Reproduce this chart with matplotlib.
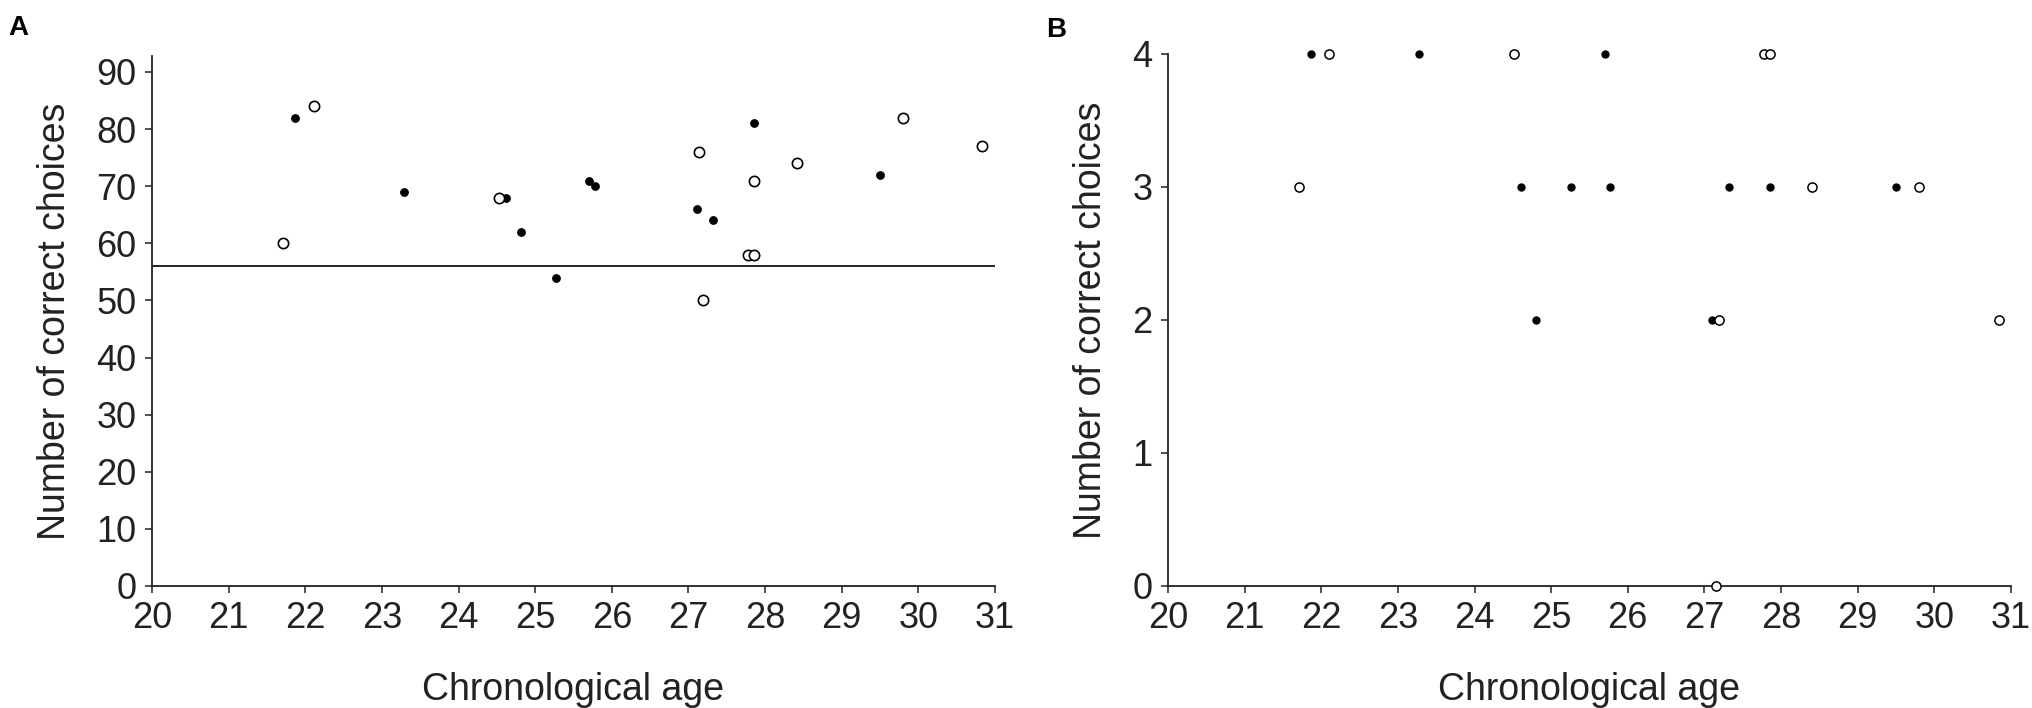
import matplotlib
matplotlib.use("Agg")
import matplotlib.pyplot as plt

plt.rcParams['font.family'] = ['Liberation Sans', 'DejaVu Sans']

# Panel A: number of correct choices (of 90) vs age
a_filled_age = [21.87, 23.29, 24.62, 24.81, 25.27, 25.70, 25.78, 27.11, 27.32, 27.86, 29.50]
a_filled_score = [82, 69, 68, 62, 54, 71, 70, 66, 64, 81, 72]
a_open_age = [21.71, 22.11, 24.53, 27.14, 27.19, 27.78, 27.86, 27.86, 28.41, 29.80, 30.83]
a_open_score = [60, 84, 68, 76, 50, 58, 58, 71, 74, 82, 77]
a_chance = 56

# Panel B: number of correct choices (of 4) vs age
b_filled_age = [21.86, 23.28, 25.70, 24.61, 25.26, 25.77, 27.32, 27.86, 29.50, 24.80, 27.10]
b_filled_score = [4, 4, 4, 3, 3, 3, 3, 3, 3, 2, 2]
b_open_age = [22.10, 24.51, 27.78, 27.86, 21.71, 28.41, 29.80, 27.19, 30.84, 27.15]
b_open_score = [4, 4, 4, 4, 3, 3, 3, 2, 2, 0]

x_ticks = list(range(20, 32))
a_y_ticks = list(range(0, 91, 10))
b_y_ticks = [0, 1, 2, 3, 4]

ink = '#222222'
fig = plt.figure(figsize=(20.33, 7.08), dpi=100)
ax_a = fig.add_axes([0.07477, 0.17232, 0.41465, 0.74859])
ax_b = fig.add_axes([0.57452, 0.17232, 0.41465, 0.75141])


def style_axes(ax, yticks, ylim):
    ax.set_xlim(20, 31)
    ax.set_ylim(*ylim)
    ax.set_xticks(x_ticks)
    ax.set_yticks(yticks)
    for side in ('top', 'right'):
        ax.spines[side].set_visible(False)
    for side in ('left', 'bottom'):
        ax.spines[side].set_color(ink)
        ax.spines[side].set_linewidth(1.3)
    ax.tick_params(direction='out', length=5, width=1.1, color=ink,
                   labelsize=26, labelcolor=ink, pad=6)
    ax.set_xlabel('Chronological age', fontsize=27, color=ink, labelpad=26)
    ax.set_ylabel('Number of correct choices', fontsize=27, color=ink, labelpad=17)


style_axes(ax_a, a_y_ticks, (0, 92.8))
ax_a.axhline(a_chance, color='black', lw=1.2, zorder=1)
ax_a.plot(a_filled_age, a_filled_score, 'o', ms=5.3, color='black',
          mec='black', clip_on=False, zorder=3)
ax_a.plot(a_open_age, a_open_score, 'o', ms=7.4, mfc='white', mec='black',
          mew=1.2, clip_on=False, zorder=3)

style_axes(ax_b, b_y_ticks, (0, 4))
ax_b.plot(b_filled_age, b_filled_score, 'o', ms=5.0, color='black',
          mec='black', clip_on=False, zorder=3)
ax_b.plot(b_open_age, b_open_score, 'o', ms=6.6, mfc='white', mec='black',
          mew=1.1, clip_on=False, zorder=3)

fig.text(18 / 2033, 1 - 28 / 708, 'A', fontsize=20, fontweight='bold',
         ha='center', va='center')
fig.text(1056 / 2033, 1 - 30 / 708, 'B', fontsize=20, fontweight='bold',
         ha='center', va='center')

fig.savefig('out.png', dpi=100)
